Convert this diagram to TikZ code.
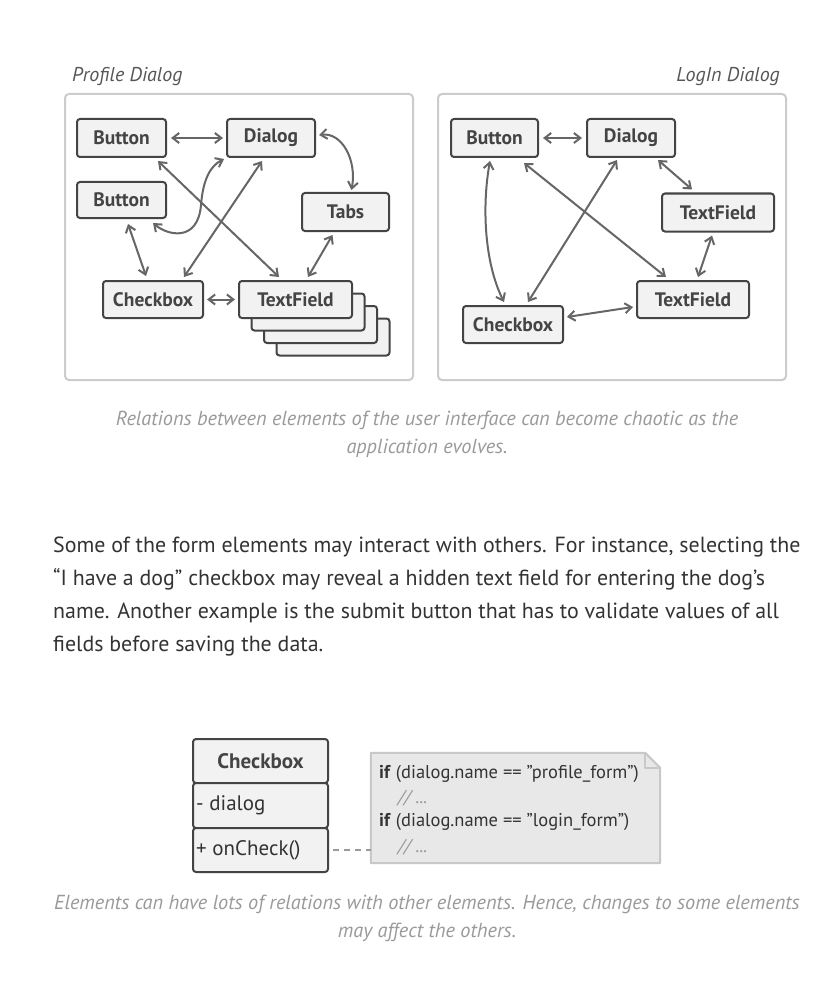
\documentclass[tikz,border=0pt]{standalone}
\usepackage{fontspec}
\setmainfont{PT Sans}
\usetikzlibrary{arrows.meta,calc}
\definecolor{nodefill}{HTML}{F2F2F2}
\definecolor{nodeline}{HTML}{444444}
\definecolor{arrowcol}{HTML}{666666}
\definecolor{panelline}{HTML}{CCCCCC}
\definecolor{captioncol}{HTML}{9A9A9A}
\definecolor{textcol}{HTML}{333333}
\definecolor{notefill}{HTML}{E8E8E8}
\definecolor{noteline}{HTML}{C8C8C8}
\begin{document}
\begin{tikzpicture}[x=1pt,y=-1pt,
  panel/.style={draw=panelline,line width=2pt,rounded corners=4pt,fill=white},
  elem/.style={draw=nodeline,fill=nodefill,line width=2pt,rounded corners=3pt,
    inner sep=0pt,minimum height=38pt,font=\fontsize{19.5}{22}\selectfont\bfseries,text=nodeline},
  rel/.style={draw=arrowcol,line width=2pt,{Straight Barb[length=6.5pt,width=10pt]}-{Straight Barb[length=6.5pt,width=10pt]}},
  panellabel/.style={font=\fontsize{20}{23}\selectfont\itshape,text=nodeline!90},
  caption/.style={font=\fontsize{20.3}{24}\selectfont\itshape,text=captioncol,anchor=base},
  para/.style={font=\fontsize{21.9}{26}\selectfont,text=textcol,anchor=base west,inner sep=0pt},
  umlbox/.style={draw=nodeline,fill=nodefill,line width=2pt,rounded corners=3pt,
    minimum width=135pt,inner sep=0pt},
  notetext/.style={font=\fontsize{18.5}{20}\selectfont,text=textcol,anchor=base west,inner sep=0pt},
  notecomment/.style={font=\fontsize{18.5}{20}\selectfont\itshape,text=captioncol,anchor=base west,inner sep=0pt}
]
\useasboundingbox[fill=white] (0,0) rectangle (836,987);

% ---------- panels ----------
\node[panellabel,anchor=base west,inner sep=0pt] (lblP) at (72,82) {Profile Dialog};
\node[panellabel,anchor=base east,inner sep=0pt] (lblL) at (780,82) {LogIn Dialog};
\draw[panel] (65,94) rectangle (413,380);
\draw[panel] (438,94) rectangle (786,380);

% ---------- Profile dialog ----------
\node[elem,minimum width=89pt] (pb1) at (121.5,138) {Button};
\node[elem,minimum width=88pt] (pdlg) at (271,138) {Dialog};
\node[elem,minimum width=89pt,minimum height=36pt] (pb2) at (121.5,200) {Button};
\node[elem,minimum width=87pt] (ptabs) at (345.5,212) {Tabs};
\node[elem,minimum width=100pt,minimum height=37pt] (pchk) at (153,299.5) {Checkbox};
\node[elem,minimum width=113pt,minimum height=37pt] (ptf3) at (333,337) {};
\node[elem,minimum width=113pt,minimum height=37pt] (ptf2) at (320.5,324.5) {};
\node[elem,minimum width=113pt,minimum height=37pt] (ptf1) at (308,312) {};
\node[elem,minimum width=113pt,minimum height=37pt] (ptf) at (295.5,299.5) {TextField};

\draw[rel] ($(pb1.east)+(4,0)$) -- ($(pdlg.west)+(-3,0)$);
\draw[rel] ($(pdlg.east)+(3,-3)$) .. controls (342,132) and (357,160) .. ($(ptabs.north)+(6,-2)$);
\draw[rel] ($(pb1.south east)+(-9,3)$) -- ($(ptf.north west)+(41,-3)$);
\draw[rel] ($(pb2.south east)+(-14,4)$) .. controls (168,236) and (198,242) .. (201,205)
   .. controls (203,180) and (210,166) .. ($(pdlg.south west)+(-2,1)$);
\draw[rel] ($(pdlg.south)+(-9,3)$) -- ($(pchk.north east)+(-20,-3)$);
\draw[rel] ($(pb2.south)+(6.5,5)$) -- ($(pchk.north)+(-7,-4)$);
\draw[rel] ($(pchk.east)+(3,0)$) -- ($(ptf.west)+(-3,0)$);
\draw[rel] ($(ptabs.south)+(-13,3)$) -- ($(ptf.north)+(12.5,-3)$);

% ---------- Login dialog ----------
\node[elem,minimum width=87pt] (lb) at (494.5,138) {Button};
\node[elem,minimum width=88pt] (ldlg) at (631,138) {Dialog};
\node[elem,minimum width=112pt] (ltf1) at (718,212.5) {TextField};
\node[elem,minimum width=112pt,minimum height=37pt] (ltf2) at (693,299.5) {TextField};
\node[elem,minimum width=100pt,minimum height=37pt] (lchk) at (513,324.5) {Checkbox};

\draw[rel] ($(lb.east)+(4,0)$) -- ($(ldlg.west)+(-4,0)$);
\draw[rel] ($(ldlg.south east)+(-18,2)$) -- ($(ltf1.north west)+(31,-3)$);
\draw[rel] ($(lb.south)+(-4.5,3)$) .. controls (482,205) and (484,262) .. ($(lchk.north)+(-9,-3)$);
\draw[rel] ($(lb.south east)+(-15,5)$) -- ($(ltf2.north west)+(30,-3)$);
\draw[rel] ($(ldlg.south)+(-14,2)$) -- ($(lchk.north east)+(-36,-3)$);
\draw[rel] ($(ltf1.south)+(-6,3)$) -- ($(ltf2.north)+(5,-3)$);
\draw[rel] ($(lchk.east)+(3,-7.5)$) -- ($(ltf2.west)+(-3,7.5)$);

% ---------- caption 1 ----------
\node[caption] (cap1a) at (427,425) {Relations between elements of the user interface can become chaotic as the};
\node[caption] (cap1b) at (427,453) {application evolves.};

% ---------- paragraph ----------
\node[para] (p1) at (53,552) {Some of the form elements may interact with others. For instance, selecting the};
\node[para] (p2) at (53,585) {“I have a dog” checkbox may reveal a hidden text field for entering the dog’s};
\node[para] (p3) at (53,618) {name. Another example is the submit button that has to validate values of all};
\node[para] (p4) at (53,651) {fields before saving the data.};

% ---------- UML class ----------
\node[umlbox,minimum height=44pt,font=\fontsize{21}{24}\selectfont\bfseries,text=nodeline] (chk) at (260.5,761) {Checkbox};
\node[umlbox,minimum height=45pt] (chkattr) at (260.5,805.5) {};
\node[umlbox,minimum height=44pt] (chkmeth) at (260.5,850) {};
\node[anchor=west,inner sep=0pt,font=\fontsize{21}{24}\selectfont,text=textcol] (attr) at (196,805) {- dialog};
\node[anchor=west,inner sep=0pt,font=\fontsize{21}{24}\selectfont,text=textcol] (meth) at (196,850) {+ onCheck()};

% ---------- note ----------
\node[inner sep=0pt,minimum width=289pt,minimum height=110pt] (note) at (515.5,808) {};
\draw[draw=noteline,fill=notefill,line width=2pt,line join=round]
  (note.north west) -- ($(note.north east)+(-15,0)$) -- ($(note.north east)+(0,15)$)
  -- (note.south east) -- (note.south west) -- cycle;
\draw[draw=noteline,line width=2pt,line join=round]
  ($(note.north east)+(-15,0)$) -- ($(note.north east)+(-15,15)$) -- ($(note.north east)+(0,15)$);
\node[notetext] (n1) at (379,778) {\textbf{if} (dialog.name == "profile\_form")};
\node[notecomment] (n2) at (398,803) {// ...};
\node[notetext] (n3) at (379,826) {\textbf{if} (dialog.name == "login\_form")};
\node[notecomment] (n4) at (398,852) {// ...};
\draw[draw=captioncol,line width=1.5pt,dash pattern=on 6pt off 5pt] ($(chkmeth.east)+(4,0)$) -- ($(note.west)+(0,42)$);

% ---------- caption 2 ----------
\node[caption] (cap2a) at (427,909) {Elements can have lots of relations with other elements. Hence, changes to some elements};
\node[caption] (cap2b) at (427,937) {may affect the others.};
\end{tikzpicture}
\end{document}
